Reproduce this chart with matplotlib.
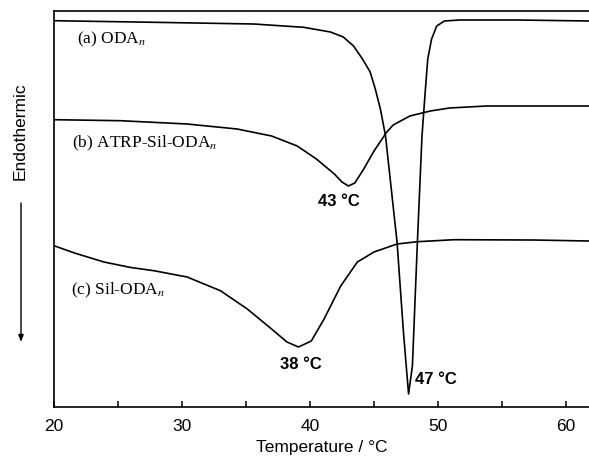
import numpy as np
import matplotlib
matplotlib.use("Agg")
import matplotlib.pyplot as plt

plt.rcParams["mathtext.fontset"] = "stix"

# DSC traces (temperature in deg C, heat flow in arbitrary units)
t_a = [20.0, 27.8, 35.6, 39.5, 41.6, 42.6, 43.4, 44.1, 44.7, 45.1, 45.5, 45.9, 46.8, 47.3,
       47.7, 48.0, 48.4, 48.75, 49.0, 49.2, 49.5, 49.9, 50.5, 51.7, 56.2, 61.8]
hf_a = [386.3, 384.7, 383, 379.7, 375, 370, 361, 348, 335, 318, 298, 271, 165, 75,
        13, 41, 168, 271, 315, 348, 368, 381, 386, 387, 387, 386]

t_b = [20.0, 25.2, 30.4, 34.3, 37.0, 39.0, 40.5, 41.9, 42.5, 43.0, 43.5, 44.2, 45.0,
       46.0, 46.5, 47.8, 49.4, 50.9, 53.8, 61.8]
hf_b = [287.3, 286.3, 283, 278, 271, 261, 248, 233, 225, 221, 224, 238, 256,
        275, 282, 291, 296, 299, 301, 301]

t_c = [20.0, 21.6, 23.9, 26.0, 27.8, 30.4, 33.0, 35.1, 37.0, 38.2, 39.1, 40.1, 41.1, 42.4,
       43.7, 45.0, 46.8, 48.4, 51.25, 57.4, 61.8]
hf_c = [161.3, 154, 145, 139.5, 136.3, 130, 116.3, 98, 78, 65, 60, 66, 88, 121,
        145, 155, 163, 165.3, 167.3, 167, 166]

labels = ["(a) ODA$_{n}$", "(b) ATRP-Sil-ODA$_{n}$", "(c) Sil-ODA$_{n}$"]
label_pos = [(21.8, 369), (21.4, 265), (21.3, 118)]
peaks = ["43 °C", "38 °C", "47 °C"]
peak_pos = [(40.6, 206), (37.65, 43), (48.2, 28)]

fig = plt.figure(figsize=(5.89, 4.60), dpi=100)
ax = fig.add_axes([54 / 589, 52 / 460, 535 / 589, 396 / 460])

for t, hf in [(t_a, hf_a), (t_b, hf_b), (t_c, hf_c)]:
    ax.plot(t, hf, color="black", lw=1.2, solid_joinstyle="round")

for lab, (x, y) in zip(labels, label_pos):
    ax.text(x, y, lab, family="Liberation Serif", fontsize=12.5, va="center", ha="left")
for lab, (x, y) in zip(peaks, peak_pos):
    ax.text(x, y, lab, family="Liberation Sans", fontsize=12, fontweight="bold",
            va="center", ha="left")

ax.set_xlim(20, 20 + 535 / 12.8)
ax.set_ylim(0, 396)
ax.set_xticks([20, 30, 40, 50, 60])
ax.set_xticks([25, 35, 45, 55], minor=True)
ax.set_yticks([])
ax.tick_params(axis="x", which="both", direction="in", length=4, width=1.1,
               labelsize=12.5, pad=8)
for lab in ax.get_xticklabels():
    lab.set_family("Liberation Sans")
ax.spines["right"].set_visible(False)
for s in ["left", "top", "bottom"]:
    ax.spines[s].set_linewidth(1.2)
ax.set_xlabel("Temperature / °C", family="Liberation Sans", fontsize=12.5, labelpad=4)

fig.text(20 / 589, 1 - 131 / 460, "Endothermic", family="Liberation Sans", fontsize=12.5,
         rotation=90, ha="center", va="center")
fig.add_artist(matplotlib.patches.FancyArrowPatch(
    (21 / 589, 1 - 204 / 460), (21 / 589, 1 - 343 / 460), transform=fig.transFigure,
    arrowstyle="-|>,head_length=4,head_width=1.5", color="black", lw=1.0,
    shrinkA=0, shrinkB=0))

fig.savefig("out.png", dpi=100)
